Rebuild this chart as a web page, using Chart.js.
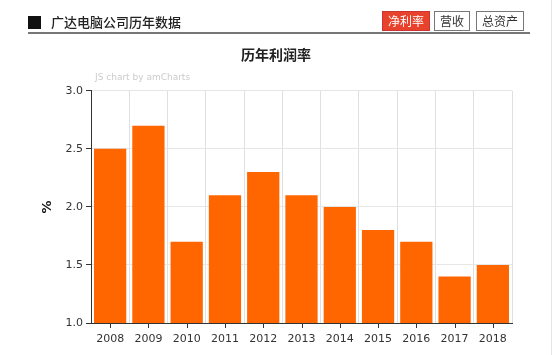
<!DOCTYPE html>
<html><head><meta charset="utf-8">
<script src="https://cdn.jsdelivr.net/npm/chart.js@4/dist/chart.umd.min.js"></script>
<style>
html,body{margin:0;padding:0;background:#fff;width:554px;height:355px;overflow:hidden;font-family:"Noto Sans CJK SC","DejaVu Sans",sans-serif;}
#wrap{position:relative;width:554px;height:355px;}
canvas{position:absolute;left:0;top:0;}
#hdr{position:absolute;left:28px;top:10px;width:502px;height:22px;border-bottom:2px solid #777;}
#sq{position:absolute;left:0;top:6px;width:13px;height:13px;background:#111;}
#ttl{position:absolute;left:23px;top:2px;font-size:13px;color:#222;font-weight:500;}
.btn{position:absolute;top:1px;height:18px;line-height:18px;font-size:12px;border:1px solid #777;padding:0 5px;color:#333;background:#fff;}
#b1{left:354px;background:#e8412c;color:#fff;border-color:#c33;}
#b2{left:406px;}
#b3{left:448px;}
#wm{position:absolute;left:95px;top:72px;font-size:9px;color:#ccc;font-family:"DejaVu Sans",sans-serif;}
#rl{position:absolute;left:551px;top:0;width:1px;height:355px;background:#e4e4e4;}
</style></head>
<body><div id="wrap">
<canvas id="c" width="554" height="355"></canvas>
<div id="hdr"><div id="sq"></div><div id="ttl">广达电脑公司历年数据</div>
<div class="btn" id="b1">净利率</div><div class="btn" id="b2">营收</div><div class="btn" id="b3">总资产</div></div>
<div id="wm">JS chart by amCharts</div>
<div id="rl"></div>
</div>
<script>
const years = ["2008","2009","2010","2011","2012","2013","2014","2015","2016","2017","2018"];
const netMargin = [2.5, 2.7, 1.7, 2.1, 2.3, 2.1, 2.0, 1.8, 1.7, 1.4, 1.5];
const chartTitle = "历年利润率";
const yTitle = "%";

const centerTicks = {
  id: 'centerTicks',
  afterDraw(chart) {
    const x = chart.scales.x, ctx = chart.ctx, y0 = chart.chartArea.bottom;
    ctx.save();
    ctx.strokeStyle = '#333';
    ctx.lineWidth = 1;
    years.forEach((_, i) => {
      const px = Math.round(x.getPixelForValue(i)) + 0.5;
      ctx.beginPath(); ctx.moveTo(px, y0); ctx.lineTo(px, y0 + 5); ctx.stroke();
    });
    ctx.restore();
  }
};

new Chart(document.getElementById('c'), {
  type: 'bar',
  data: { labels: years, datasets: [{ data: netMargin, backgroundColor: '#ff6600', borderWidth: 0, barPercentage: 0.86, categoryPercentage: 0.98 }] },
  options: {
    responsive: false, animation: false,
    layout: { padding: { top: 42, left: 40, right: 42, bottom: 0 } },
    plugins: {
      legend: { display: false }, tooltip: { enabled: false },
      title: { display: true, text: chartTitle, color: '#222', font: { family: "Noto Sans CJK SC", size: 14, weight: 'bold' }, padding: { top: 4, bottom: 28 } }
    },
    scales: {
      x: {
        grid: { offset: true, color: '#e0e0e0', drawTicks: false },
        border: { color: '#333', width: 1 },
        ticks: { color: '#333', font: { family: "DejaVu Sans", size: 11 }, padding: 10 },
        afterFit(s) { s.height = 32; }
      },
      y: {
        min: 1.0, max: 3.0,
        grid: { color: '#e6e6e6', tickLength: 5, tickColor: '#333' },
        border: { color: '#333', width: 1 },
        ticks: { stepSize: 0.5, color: '#333', font: { family: "DejaVu Sans", size: 11 }, padding: 3, callback: v => v.toFixed(1) },
        title: { display: true, text: yTitle, color: '#111', font: { family: "DejaVu Sans", size: 13, weight: 'bold' }, padding: { top: 0, bottom: 8 } },
        afterFit(s) { s.width = 51; }
      }
    }
  },
  plugins: [centerTicks]
});
</script>
</body></html>
